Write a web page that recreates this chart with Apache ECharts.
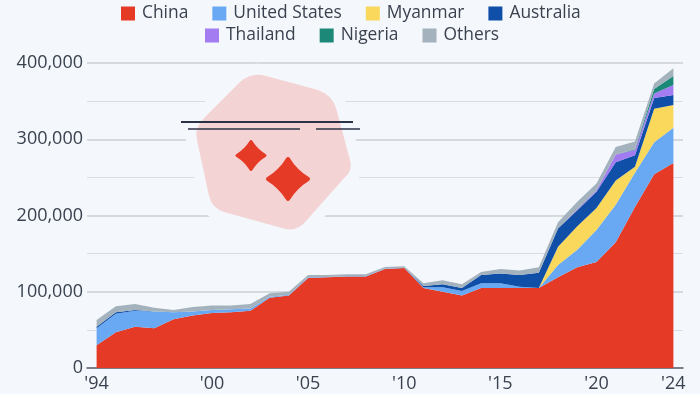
<!DOCTYPE html>
<html>
<head>
<meta charset="utf-8">
<style>
  html, body { margin: 0; padding: 0; background: #f4f7fb; }
  #chart { width: 700px; height: 394px; }
</style>
<script src="https://cdn.jsdelivr.net/npm/echarts@6/dist/echarts.min.js"></script>
</head>
<body>
<div id="chart"></div>
<script>
const years = ['1994', '1995', '1996', '1997', '1998', '1999', '2000', '2001', '2002', '2003', '2004', '2005', '2006', '2007', '2008', '2009', '2010', '2011', '2012', '2013', '2014', '2015', '2016', '2017', '2018', '2019', '2020', '2021', '2022', '2023', '2024']
const yearTicks = ['1994', '2000', '2005', '2010', '2015', '2020', '2024']
const legendRow1 = ['China', 'United States', 'Myanmar', 'Australia']
const legendRow2 = ['Thailand', 'Nigeria', 'Others']

const china = [30000, 47000, 54000, 52000, 64000, 69000, 72000, 73000, 75000, 92000, 95000, 118000, 119000, 120000, 120000, 130000, 131000, 105000, 100000, 95000, 105000, 105000, 105000, 105000, 119000, 132000, 139000, 165000, 211000, 254000, 269000]
const unitedStates = [22000, 24000, 21000, 22000, 9000, 5000, 4000, 4000, 3000, 1500, 1000, 1000, 500, 500, 500, 500, 500, 1000, 6000, 6000, 6000, 6000, 1500, 0, 16000, 23000, 42000, 49000, 45000, 42000, 46000]
const myanmar = [0, 0, 0, 0, 0, 0, 0, 0, 0, 0, 0, 0, 0, 0, 0, 0, 0, 0, 0, 0, 0, 0, 0, 0, 24000, 31000, 29000, 32000, 8000, 44000, 30000]
const australia = [2000, 2000, 1000, 0, 0, 0, 0, 0, 0, 0, 0, 0, 0, 0, 0, 0, 0, 1500, 4000, 4000, 11000, 13000, 15500, 20000, 24000, 21000, 21000, 24000, 15000, 14000, 13000]
const thailand = [0, 0, 0, 0, 0, 0, 0, 0, 0, 0, 0, 0, 0, 0, 0, 0, 0, 0, 0, 0, 0, 0, 0, 0, 0, 1000, 2000, 10000, 7000, 6000, 13000]
const nigeria = [0, 0, 0, 0, 0, 0, 0, 0, 0, 0, 0, 0, 0, 0, 0, 0, 0, 0, 0, 0, 0, 0, 0, 0, 0, 0, 0, 0, 1000, 6000, 12000]
const others = [9000, 8000, 8000, 5000, 3000, 6000, 6000, 5000, 6000, 4500, 4000, 3000, 2500, 2500, 2500, 2000, 2000, 3500, 5000, 5000, 4000, 6000, 6000, 7000, 8000, 10000, 9000, 10000, 10000, 7000, 10000]

const stacks = [
  { name: 'China', values: china, color: '#e43a26' },
  { name: 'United States', values: unitedStates, color: '#69a9f3' },
  { name: 'Myanmar', values: myanmar, color: '#f9d85c' },
  { name: 'Australia', values: australia, color: '#0f4fa8' },
  { name: 'Thailand', values: thailand, color: '#a27cf0' },
  { name: 'Nigeria', values: nigeria, color: '#1c8978' },
  { name: 'Others', values: others, color: '#a3b2bd' }
]

const textColor = '#3a4250'
const fontFamily = '"Open Sans", "Noto Sans", sans-serif'
const bg = '#f4f7fb'

function legend(row, left, top) {
  return {
    data: row,
    top: top,
    left: left,
    icon: 'rect',
    itemWidth: 14,
    itemHeight: 14,
    itemGap: 24,
    textStyle: { color: textColor, fontSize: 17.4, fontFamily: fontFamily, padding: [0, 0, 0, 2] }
  }
}

// four pointed sparkle of the icon
function star(cx, cy, r) {
  const k = r * 0.38
  return `M${cx},${cy - r}Q${cx + k},${cy - k} ${cx + r},${cy}Q${cx + k},${cy + k} ${cx},${cy + r}Q${cx - k},${cy + k} ${cx - r},${cy}Q${cx - k},${cy - k} ${cx},${cy - r}Z`
}

const blob = 'M240,82Q252,72 266,76L318,90Q332,95 336,108L350,160Q353,171 345,177L306,221Q296,233 282,228L224,212Q212,208 209,196L197,140Q194,128 204,118Z'

// graphic has no plain svg path type, so register the icon shapes
echarts.graphic.registerShape('iconBlob', echarts.graphic.extendPath(blob, {}))
echarts.graphic.registerShape('iconStarSmall', echarts.graphic.extendPath(star(251, 155.5, 14), {}))
echarts.graphic.registerShape('iconStarBig', echarts.graphic.extendPath(star(288, 179, 20), {}))

function rule(x1, x2, y, w) {
  return {
    type: 'line',
    z: 12,
    shape: { x1: x1, y1: y, x2: x2, y2: y },
    style: { stroke: '#2b3245', lineWidth: w }
  }
}

const chart = echarts.init(document.getElementById('chart'))
chart.setOption({
  backgroundColor: bg,
  animation: false,
  legend: [legend(legendRow1, 116, 0), legend(legendRow2, 200, 22)],
  grid: { left: 87, right: 17, top: 63, bottom: 26 },
  xAxis: {
    type: 'category',
    data: years,
    boundaryGap: true,
    axisLine: { show: true, lineStyle: { color: '#5a6270', width: 1.5 } },
    axisTick: { show: false },
    axisLabel: {
      interval: (i, v) => yearTicks.includes(v),
      color: textColor,
      fontSize: 18,
      fontFamily: fontFamily,
      margin: 7,
      formatter: v => "'" + v.slice(2)
    }
  },
  yAxis: {
    type: 'value',
    min: 0,
    max: 400000,
    interval: 100000,
    axisLine: { show: false },
    axisTick: { show: false },
    axisLabel: {
      color: textColor,
      fontSize: 18,
      fontFamily: fontFamily,
      margin: 4,
      padding: [2, 0, 0, 0],
      formatter: v => v.toLocaleString('en-US')
    },
    splitLine: { lineStyle: { color: '#cbd0d6', width: 1.5 } },
    minorTick: { show: false, splitNumber: 2 },
    minorSplitLine: { show: true, lineStyle: { color: '#d9dde2', width: 1 } }
  },
  series: stacks.map(s => ({
    name: s.name,
    type: 'line',
    stack: 'total',
    data: s.values,
    showSymbol: false,
    color: s.color,
    lineStyle: { width: 0 },
    areaStyle: { color: s.color, opacity: 1 }
  })),
  graphic: [
    { type: 'iconBlob', z: 10, style: { fill: bg, stroke: bg, lineWidth: 22, lineJoin: 'round' } },
    { type: 'iconBlob', z: 11, style: { fill: '#f4d3d4' } },
    { type: 'iconStarSmall', z: 12, style: { fill: '#e43a26', stroke: '#e43a26', lineWidth: 3, lineJoin: 'round' } },
    { type: 'iconStarBig', z: 12, style: { fill: '#e43a26', stroke: '#e43a26', lineWidth: 4, lineJoin: 'round' } },
    rule(181, 353, 122, 2),
    rule(188, 300, 129, 1.5),
    rule(316, 360, 129, 1.5)
  ]
})
</script>
</body>
</html>
